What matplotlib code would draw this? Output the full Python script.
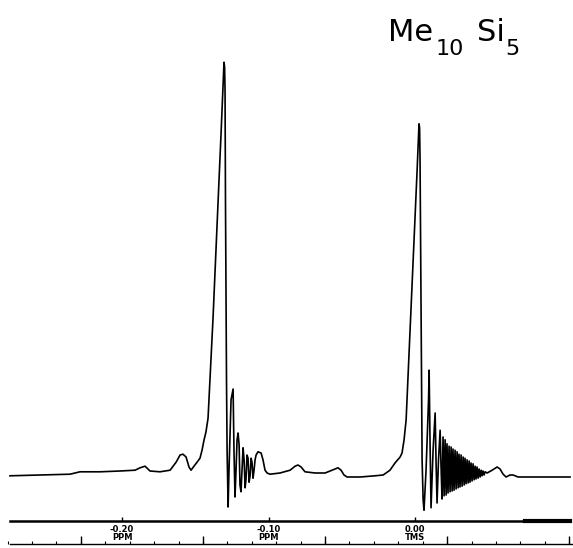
import numpy as np
import matplotlib
matplotlib.use("Agg")
import matplotlib.pyplot as plt
import matplotlib.transforms as mtransforms

# 1H NMR trace of Me10Si5, chemical shift in ppm (TMS = 0), intensity in arbitrary units
shift_ppm = [
    -0.2765, -0.2560, -0.2355, -0.2287, -0.2150, -0.2014, -0.1911, -0.1877, -0.1843, -0.1809,
    -0.1741, -0.1672, -0.1631, -0.1604, -0.1584, -0.1563, -0.1543, -0.1529, -0.1509, -0.1488,
    -0.1468, -0.1454, -0.1440, -0.1427, -0.1413, -0.1393, -0.1379, -0.1365, -0.1352,
    -0.1338, -0.1324, -0.1311, -0.1304, -0.1300, -0.1297, -0.1294, -0.1290, -0.1287, -0.1283,
    -0.1276,
    -0.1270, -0.1256, -0.1242, -0.1236, -0.1229, -0.1222, -0.1215, -0.1208, -0.1201, -0.1195,
    -0.1188, -0.1181, -0.1174, -0.1167, -0.1160, -0.1154, -0.1147, -0.1140, -0.1133, -0.1126,
    -0.1119, -0.1113, -0.1106, -0.1099, -0.1092, -0.1085, -0.1072, -0.1051, -0.1038, -0.1024,
    -0.1010, -0.0990, -0.0922, -0.0853, -0.0819, -0.0799, -0.0778, -0.0751, -0.0683, -0.0614,
    -0.0580, -0.0546, -0.0526, -0.0505, -0.0485, -0.0464, -0.0375, -0.0273, -0.0218, -0.0171,
    -0.0137, -0.0102, -0.0089, -0.0075, -0.0061, -0.0055, -0.0041, -0.0027, -0.0014, 0.0000,
    0.0014, 0.0027, 0.0031, 0.0034, 0.0038, 0.0041, 0.0044, 0.0048, 0.0055, 0.0061,
    0.0075, 0.0092,
    0.0096, 0.0102, 0.0109, 0.0123, 0.0137, 0.0143, 0.0150, 0.0160, 0.0171, 0.0177,
    0.0184, 0.0191, 0.0198, 0.0205, 0.0212, 0.0218, 0.0225, 0.0232, 0.0239, 0.0246,
    0.0253, 0.0259, 0.0266, 0.0273, 0.0280, 0.0287, 0.0294, 0.0300, 0.0307, 0.0314,
    0.0321, 0.0328, 0.0335, 0.0341, 0.0348, 0.0355, 0.0362, 0.0369, 0.0375, 0.0382,
    0.0389, 0.0396, 0.0403, 0.0410, 0.0416, 0.0423, 0.0430, 0.0437, 0.0444, 0.0451,
    0.0457, 0.0464, 0.0471, 0.0478, 0.0492, 0.0526, 0.0560, 0.0580, 0.0601, 0.0621,
    0.0648, 0.0669, 0.0703, 0.0853, 0.1058,
]
intensity = [
    -0.2, 0.0, 0.2, 0.8, 0.8, 1.0, 1.2, 1.8, 2.2, 1.0,
    0.8, 1.2, 3.2, 5.0, 5.2, 4.5, 2.0, 1.2, 2.2, 3.2,
    4.2, 6.2, 8.8, 10.8, 14.2, 28.8, 39.2, 50.8, 62.2,
    73.8, 85.5, 97.2, 103.2, 102.0, 96.2, 68.8, 43.8, 23.8, 6.2,
    -8.0,
    1.2, 18.8, 21.5, 6.2, -5.5, 1.2, 8.8, 10.5, 7.5, -2.5,
    -4.2, 1.2, 6.8, 3.8, -3.2, -1.2, 5.0, 4.2, -1.8, -0.2,
    4.2, 3.2, -0.8, 1.2, 3.8, 5.0, 5.8, 5.5, 3.8, 1.2,
    0.5, 0.2, 0.5, 1.2, 2.2, 2.5, 2.0, 0.8, 0.5, 0.5,
    1.0, 1.5, 1.8, 1.2, 0.0, -0.5, -0.5, -0.2, 0.0, 1.2,
    3.0, 4.5, 5.5, 8.8, 13.8, 18.8, 30.2, 41.8, 53.2, 64.8,
    76.2, 87.8, 86.8, 78.8, 56.2, 36.2, 18.8, 3.8, -6.2, -8.8,
    1.2, 18.8,
    26.2, 8.8, -8.2, 6.2, 15.5, 3.8, -7.0, 3.8, 11.2, 2.5,
    -6.0, 9.5, -5.2, 8.8, -5.0, 7.8, -4.5, 7.2, -4.2, 7.0,
    -4.0, 6.5, -3.8, 6.2, -3.5, 5.8, -3.2, 5.2, -3.0, 5.0,
    -2.8, 4.5, -2.5, 4.2, -2.2, 3.8, -2.0, 3.5, -1.8, 3.0,
    -1.5, 2.8, -1.2, 2.2, -1.0, 2.0, -0.8, 1.5, -0.5, 1.2,
    -0.2, 1.0, 0.0, 0.8, 0.5, 1.2, 2.0, 1.5, 0.2, -0.5,
    0.0, 0.0, -0.5, -0.5, -0.5,
]

# ppm scale printed under the trace
ppm_label_pos = [-0.20, -0.10, 0.00]
ppm_labels = ["-0.20\nPPM", "-0.10\nPPM", "0.00\nTMS"]

# chart-paper Hz scale (60 MHz): major every 5 Hz, minor every 1 Hz
hz_major_ppm = [-0.2281, -0.1448, -0.0615, 0.0218, 0.1051]

fig = plt.figure(figsize=(5.73, 5.48), dpi=100)
ax = fig.add_axes([0, 0, 1, 1])
ax.plot(shift_ppm, intensity, color="black", lw=1.2, solid_joinstyle="round")
ax.set_xlim(-0.2833, 0.1078)
ax.set_ylim(-18.25, 118.75)
ax.axis("off")

trans = mtransforms.blended_transform_factory(ax.transData, ax.transAxes)

# ppm scale line with small marks at the labels
ax.plot([-0.2765, 0.1058], [0.049, 0.049], color="black", lw=1.8, transform=trans)
ax.plot([0.0751, 0.1058], [0.049, 0.049], color="black", lw=3.0, transform=trans)
ax.vlines(ppm_label_pos, 0.049, 0.057, color="black", lw=1.0, transform=trans)
for pos, lab in zip(ppm_label_pos, ppm_labels):
    ax.text(pos, 0.042, lab, transform=trans, ha="center", va="top",
            fontsize=6, fontweight="bold", linespacing=0.9)

# Hz scale at the bottom
ax.plot([-0.2765, 0.1078], [0.007, 0.007], color="black", lw=1.0, transform=trans)
minor = np.arange(hz_major_ppm[0] - 3 / 60, 0.108, 1 / 60)
ax.vlines(minor, 0.007, 0.013, color="black", lw=0.8, transform=trans)
ax.vlines(hz_major_ppm, 0.007, 0.022, color="black", lw=1.0, transform=trans)

# compound label, written by hand in the original: big digits set low
ax.text(-0.0184, 108.5, "Me", fontsize=22, ha="left", va="baseline")
ax.text(0.0137, 105, "10", fontsize=16, ha="left", va="baseline")
ax.text(0.0423, 108.5, "Si", fontsize=22, ha="left", va="baseline")
ax.text(0.0614, 105, "5", fontsize=16, ha="left", va="baseline")

fig.savefig("out.png", dpi=100)
